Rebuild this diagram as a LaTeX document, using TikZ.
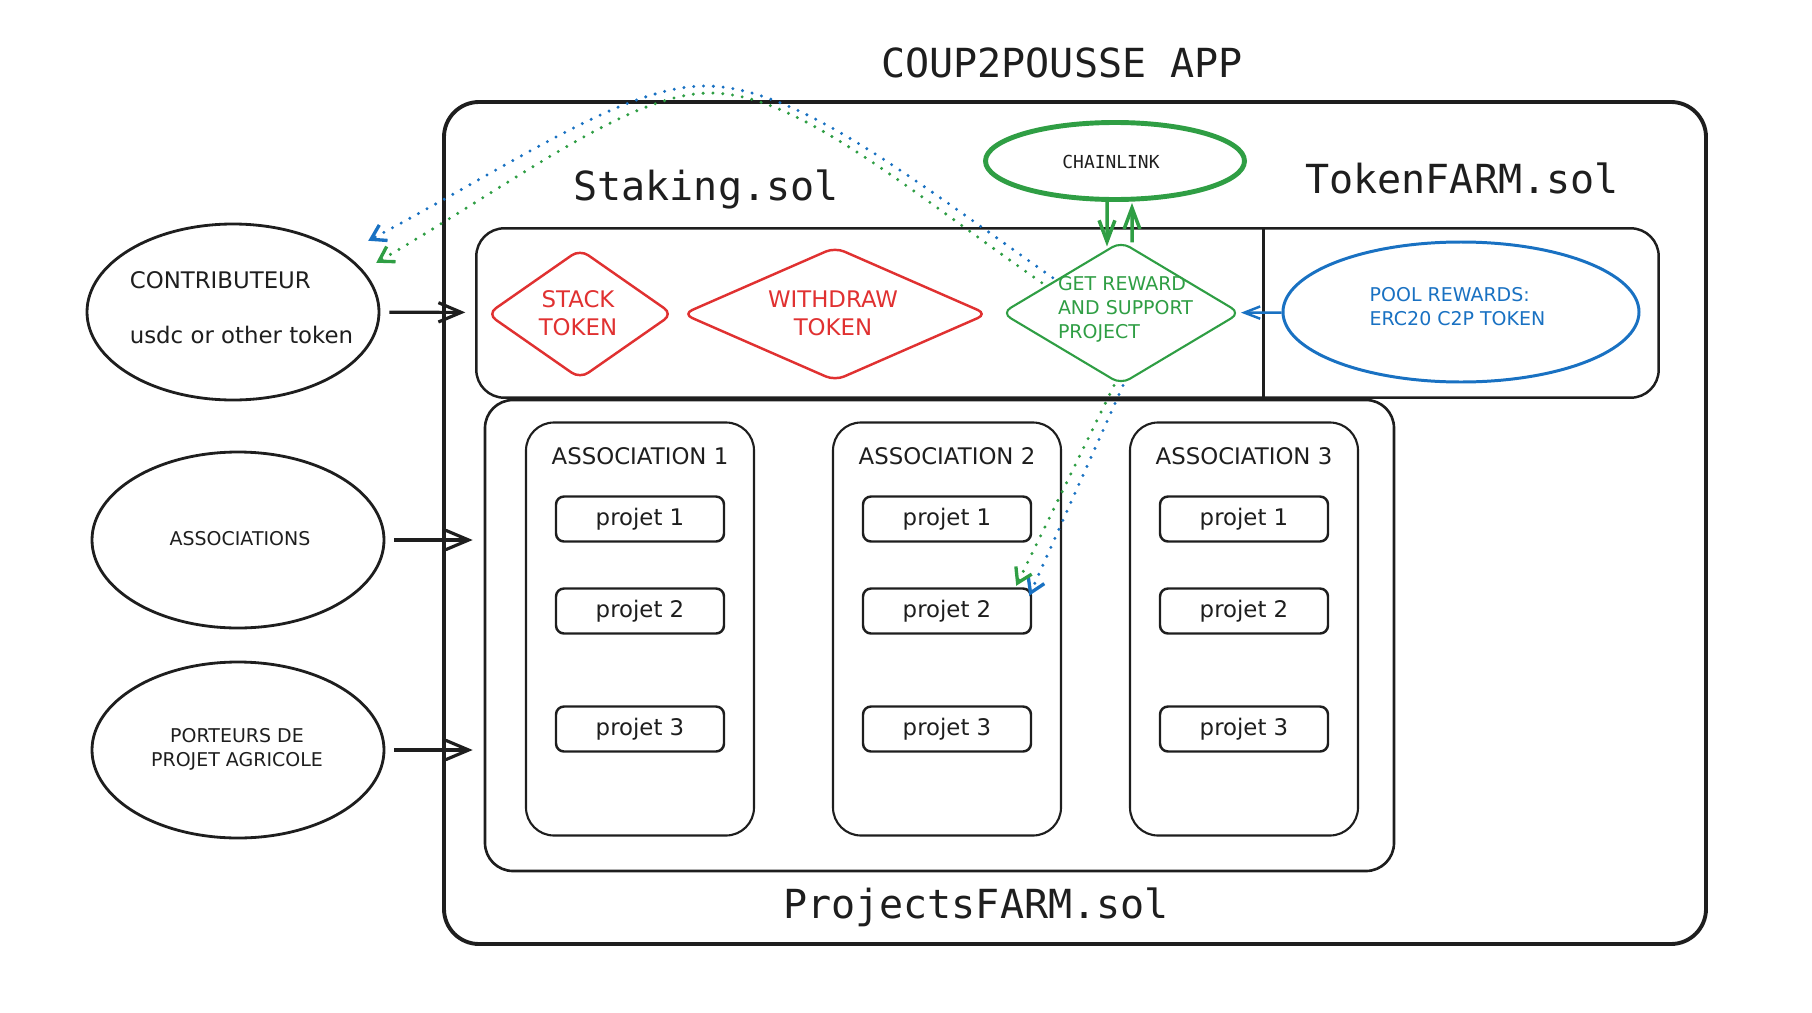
\documentclass[tikz,border=0pt]{standalone}
\usepackage{fontspec}
\usepackage{tikz}
\usetikzlibrary{shapes.geometric,arrows.meta}

\newfontfamily\sketchfont{DejaVu Sans}
\newfontfamily\codefont{DejaVu Sans Mono}
\definecolor{skred}{HTML}{E03131}
\definecolor{skgreen}{HTML}{2F9E44}
\definecolor{skblue}{HTML}{1971C2}
\definecolor{ink}{HTML}{1E1E1E}

\tikzset{
  box/.style={draw=ink, line width=0.7pt, rounded corners=2.8mm, inner sep=0pt},
  projbox/.style={draw=ink, line width=0.7pt, rounded corners=0.8mm, minimum width=1.68cm, minimum height=0.45cm, inner sep=0pt, text=ink, font=\sketchfont\fontsize{6.5}{8}\selectfont},
  bubble/.style={ellipse, draw=ink, line width=0.8pt, minimum width=2.92cm, minimum height=1.76cm},
  losange/.style={diamond, line width=0.7pt, rounded corners=1mm, inner sep=0pt},
  txtA/.style={text=ink, font=\sketchfont\fontsize{6.5}{8}\selectfont},
  txtB/.style={text=ink, font=\sketchfont\fontsize{5.4}{6.8}\selectfont},
  codetitle/.style={text=ink, anchor=base, font=\codefont\fontsize{11.4}{13}\selectfont},
  arr/.style={draw=ink, line width=0.9pt, -{Straight Barb[length=6.5pt,width=5.5pt]}, shorten <=0.09cm, shorten >=0.11cm},
  garr/.style={draw=skgreen, line width=1pt, -{Straight Barb[length=6pt,width=4.5pt]}},
  barr/.style={draw=skblue, line width=0.7pt, -{Straight Barb[length=4.5pt,width=3.5pt]}},
  dots/.style={line width=0.95pt, line cap=round, dash pattern=on 0pt off 2.8pt, -{Straight Barb[length=4pt,width=5pt]}}
}

\begin{document}
\begin{tikzpicture}
\useasboundingbox (0,0) rectangle (18.12,10.12);

% titles
\node[codetitle] (title) at (10.62,9.35) {COUP2POUSSE APP};
\node[draw=ink, line width=1.1pt, rounded corners=3.5mm, minimum width=12.62cm, minimum height=8.42cm] (app) at (10.75,4.89) {};
\node[codetitle] (staking-name) at (7.06,8.12) {Staking.sol};
\node[codetitle] (tokenfarm-name) at (14.62,8.19) {TokenFARM.sol};
\node[codetitle] (projects-name) at (9.76,0.94) {ProjectsFARM.sol};

% contracts
\node[minimum width=7.86cm, minimum height=1.68cm, inner sep=0pt] (staking) at (8.70,6.99) {};
\node[minimum width=3.95cm, minimum height=1.68cm, inner sep=0pt] (tokenfarm) at (14.605,6.99) {};
\draw[box] (staking.north west) rectangle (tokenfarm.south east);
\draw[ink, line width=0.7pt] (staking.north east) -- (staking.south east);

\node[losange, draw=skred, minimum width=1.86cm, minimum height=1.30cm] (stack) at (5.80,6.98) {};
\node[txtA, text=skred, align=center] (stack-text) at (5.78,6.99) {STACK\\TOKEN};
\node[losange, draw=skred, minimum width=3.05cm, minimum height=1.34cm] (withdraw) at (8.35,6.98) {};
\node[txtA, text=skred, align=center] (withdraw-text) at (8.33,6.99) {WITHDRAW\\TOKEN};
\node[losange, draw=skgreen, line width=0.6pt, minimum width=2.39cm, minimum height=1.43cm] (reward) at (11.21,6.99) {};
\node[txtB, text=skgreen, align=left] (reward-text) at (11.255,7.03) {GET REWARD\\AND SUPPORT\\PROJECT};

\node[ellipse, draw=skgreen, line width=1.4pt, minimum width=2.59cm, minimum height=0.77cm] (chain) at (11.15,8.51) {};
\node[text=ink, font=\codefont\fontsize{5.1}{6}\selectfont] (chain-text) at (11.11,8.50) {CHAINLINK};
\node[ellipse, draw=skblue, line width=0.85pt, minimum width=3.56cm, minimum height=1.40cm] (pool) at (14.61,7.00) {};
\node[txtB, text=skblue, align=left] (pool-text) at (14.575,7.05) {POOL REWARDS:\\ERC20 C2P TOKEN};

\draw[garr] ([xshift=-0.08cm]chain.south) -- ([xshift=-0.14cm,yshift=-0.06cm]reward.north);
\draw[garr] ([xshift=0.11cm,yshift=-0.02cm]reward.north) -- ([xshift=0.17cm,yshift=-0.01cm]chain.south);
\draw[barr] (pool) -- (reward);

% projects
\node[box, line width=0.75pt, minimum width=9.09cm, minimum height=4.71cm] (projects) at (9.395,3.765) {};
\foreach \a/\x in {1/6.40,2/9.47,3/12.44} {
  \node[box, line width=0.6pt, minimum width=2.28cm, minimum height=4.13cm] (asso\a) at (\x,3.83) {};
  \node[txtA] (asso\a-name) at (\x,5.56) {ASSOCIATION \a};
  \foreach \p/\y in {1/4.93,2/4.01,3/2.83}
    \node[projbox] (p\a\p) at (\x,\y) {projet \p};
}

% actors
\node[bubble] (contrib) at (2.33,7.00) {};
\node[text=ink, font=\sketchfont\fontsize{6.5}{15.6}\selectfont, align=left] (contrib-text) at (2.415,7.045) {CONTRIBUTEUR\\usdc or other token};
\node[bubble] (assoc) at (2.38,4.72) {};
\node[txtB] (assoc-text) at (2.40,4.73) {ASSOCIATIONS};
\node[bubble] (porteurs) at (2.38,2.62) {};
\node[txtB, align=center] (porteurs-text) at (2.37,2.63) {PORTEURS DE\\PROJET AGRICOLE};

\draw[arr] (contrib) -- (staking);
\draw[arr] (assoc) -- (assoc -| projects.west);
\draw[arr] (porteurs) -- (porteurs -| projects.west);

% reward flows
\draw[dots, skblue] ([shift={(-0.08,-0.01)}]reward.north west) .. controls (9.06,8.38) and (7.95,9.26) .. (7.05,9.26) .. controls (6.25,9.26) and (5.20,8.52) .. ([shift={(0.31,0.08)}]contrib.north east);
\draw[dots, skgreen] ([shift={(-0.19,-0.06)}]reward.north west) .. controls (8.98,8.30) and (7.95,9.19) .. (7.10,9.19) .. controls (6.30,9.19) and (5.18,8.32) .. ([shift={(0.39,-0.14)}]contrib.north east);
\draw[dots, skblue] ([xshift=0.02cm]reward.south) -- ([shift={(-0.03,-0.085)}]p22.north east);
\draw[dots, skgreen] ([xshift=-0.07cm]reward.south) -- ([shift={(-0.16,0.015)}]p22.north east);
\end{tikzpicture}
\end{document}
